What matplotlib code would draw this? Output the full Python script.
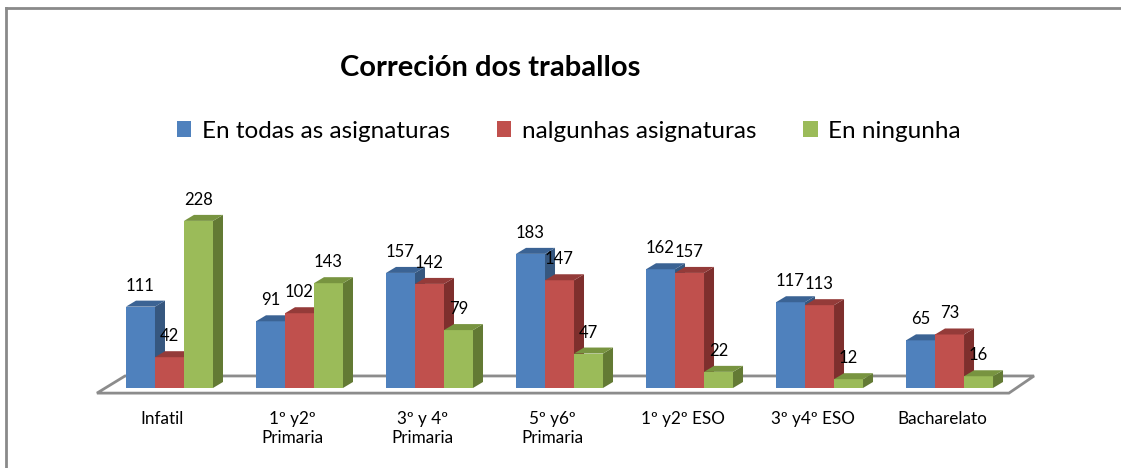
import matplotlib
matplotlib.use("Agg")
import matplotlib.pyplot as plt
from matplotlib.patches import Polygon, Patch
from matplotlib.collections import PolyCollection
from matplotlib.lines import Line2D

plt.rcParams['font.family'] = ['Lato', 'DejaVu Sans']

# ---- data ----
categories = ["Infatil", "1º y2º\nPrimaria", "3º y 4º\nPrimaria", "5º y6º\nPrimaria",
              "1º y2º ESO", "3º y4º ESO", "Bacharelato"]
series_names = ["En todas as asignaturas", "nalgunhas asignaturas", "En ningunha"]
todas = [111, 91, 157, 183, 162, 117, 65]
nalgunhas = [42, 102, 142, 147, 157, 113, 73]
ningunha = [228, 143, 79, 47, 22, 12, 16]
title = "Correción dos traballos"

series = [todas, nalgunhas, ningunha]
front_colors = ["#4F81BD", "#C0504D", "#9BBB59"]
top_colors = ["#3B6394", "#943B39", "#789440"]
side_colors = ["#36577F", "#7E2F2D", "#637A34"]

W, H = 1121, 468
fig = plt.figure(figsize=(W / 100, H / 100), dpi=100)

# axes placed so that one category = 130 px, value scale ~0.733 px/unit
ax = fig.add_axes([90 / W, 1 - 400 / H, 950 / W, 220 / H])
ax.set_xlim(-0.6115, 6.696)
ax.set_ylim(-16.4, 283.8)
ax.axis('off')

px_x = 1 / 130.0        # data units per pixel (x)
px_y = 1 / 0.733        # data units per pixel (y)
BW = 29 * px_x
DX = 10 * px_x
DY = 6 * px_y

# floor
floor = Polygon([(-0.558, -7.0), (6.457, -7.0), (6.65, 16.4), (-0.342, 16.4)],
                closed=True, facecolor="white", edgecolor="#8C8C8C", lw=2, zorder=1)
ax.add_patch(floor)

n = len(categories)
for j, vals in enumerate(series):
    x0s = [i - 1.5 * BW + j * BW for i in range(n)]
    ax.bar(x0s, vals, width=BW, align='edge', color=front_colors[j],
           edgecolor='none', zorder=2 + 2 * j)
    sides, tops = [], []
    for x0, v in zip(x0s, vals):
        sides.append([(x0 + BW, 0), (x0 + BW + DX, DY), (x0 + BW + DX, v + DY), (x0 + BW, v)])
        tops.append([(x0, v), (x0 + DX, v + DY), (x0 + BW + DX, v + DY), (x0 + BW, v)])
    ax.add_collection(PolyCollection(sides, facecolors=side_colors[j], edgecolors='none',
                                     zorder=3 + 2 * j))
    ax.add_collection(PolyCollection(tops, facecolors=top_colors[j], edgecolors='none',
                                     zorder=3 + 2 * j))
    for x0, v in zip(x0s, vals):
        ax.annotate(str(v), (x0 + BW / 2, v), xytext=(0, 21), textcoords='offset pixels',
                    ha='center', va='center', fontsize=12, color='black', zorder=20)

for i, lab in enumerate(categories):
    ax.annotate(lab, (i - 0.054, 0), xytext=(0, -23), textcoords='offset pixels',
                ha='center', va='top', multialignment='center', fontsize=12.3,
                linespacing=1.25, color='black', annotation_clip=False)

fig.text(490 / W, 1 - 68 / H, title, ha='center', va='center', fontsize=21,
         fontweight='bold', color='black')

handles = [Patch(facecolor=c, edgecolor='none') for c in front_colors]
fig.legend(handles, series_names, loc='center', bbox_to_anchor=(569 / W, 1 - 131 / H),
           ncol=3, frameon=False, handlelength=0.6, handleheight=0.6,
           handletextpad=0.45, columnspacing=1.9, fontsize=17.5)

# chart border (left and top)
fig.add_artist(Line2D([5.5 / W, 5.5 / W], [0, 1 - 7.5 / H], transform=fig.transFigure,
                      color="#8A8A8A", lw=2))
fig.add_artist(Line2D([5.5 / W, 1], [1 - 7.5 / H, 1 - 7.5 / H], transform=fig.transFigure,
                      color="#8A8A8A", lw=2))

fig.savefig("out.png", dpi=100, facecolor="white")
